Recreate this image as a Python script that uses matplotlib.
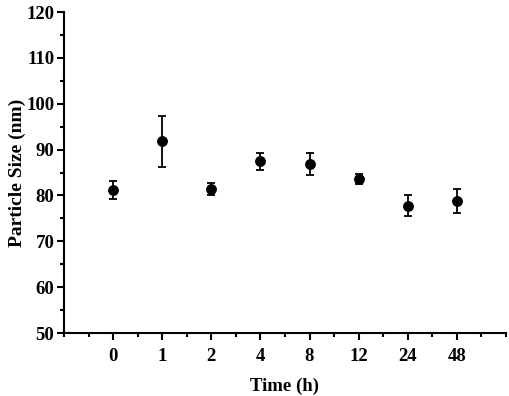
import matplotlib
matplotlib.use("Agg")
from matplotlib import pyplot as plt
from matplotlib.ticker import MultipleLocator

# time points shown as evenly spaced categories
time_labels = ['0', '1', '2', '4', '8', '12', '24', '48']
size_nm = [81.2, 91.8, 81.4, 87.4, 86.9, 83.6, 77.8, 78.8]
size_err = [1.9, 5.5, 1.3, 1.8, 2.4, 1.1, 2.3, 2.7]

plt.rcParams['font.family'] = ['Liberation Serif', 'DejaVu Serif']
plt.rcParams['font.weight'] = 'bold'

fig = plt.figure(figsize=(5.1, 3.96), dpi=100)
ax = fig.add_axes([64 / 510, 1 - 333 / 396, 442 / 510, 321 / 396])

pos = list(range(len(time_labels)))
ax.errorbar(pos, size_nm, yerr=size_err, fmt='o', color='black',
            markersize=6.8, elinewidth=1.3, capsize=3, capthick=1.3)

ax.set_xlim(-1, 8)
ax.set_ylim(50, 120)
ax.set_xticks(pos)
ax.set_xticklabels(time_labels)
ax.xaxis.set_minor_locator(MultipleLocator(0.5))
ax.yaxis.set_major_locator(MultipleLocator(10))
ax.yaxis.set_minor_locator(MultipleLocator(5))

ax.spines['top'].set_visible(False)
ax.spines['right'].set_visible(False)
ax.spines['left'].set_linewidth(1.5)
ax.spines['bottom'].set_linewidth(1.5)
ax.tick_params(which='major', direction='out', length=5, width=1.5, labelsize=13.5)
ax.tick_params(which='minor', direction='out', length=3, width=1.5)
ax.tick_params(axis='x', pad=6)
ax.tick_params(axis='y', pad=2)

ax.set_xlabel('Time (h)', fontsize=13.5, fontweight='bold', labelpad=9)
ax.set_ylabel('Particle Size (nm)', fontsize=14, fontweight='bold', labelpad=0)

fig.savefig('out.png', dpi=100)
